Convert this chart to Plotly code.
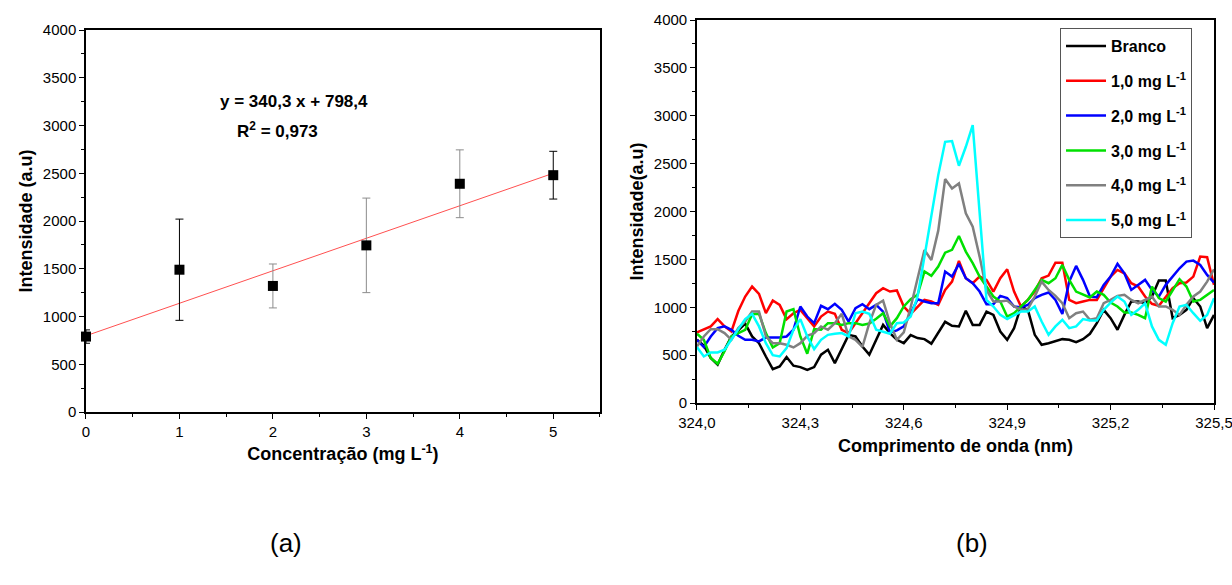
import plotly.graph_objects as go

# ---------- Panel (a): calibration ----------
conc = [0, 1, 2, 3, 4, 5]
intensity = [790, 1490, 1320, 1745, 2390, 2480]
err = [70, 530, 230, 495, 355, 250]
err_dark_idx = [0, 1, 5]
err_gray_idx = [2, 3, 4]
slope = 340.3
intercept = 798.4
fit_x = [0, 5]

# ---------- Panel (b): spectra ----------
wavelength = [324.00, 324.02, 324.04, 324.06, 324.08, 324.10, 324.12, 324.14, 324.16, 324.18,
              324.20, 324.22, 324.24, 324.26, 324.28, 324.30, 324.32, 324.34, 324.36, 324.38,
              324.40, 324.42, 324.44, 324.46, 324.48, 324.50, 324.52, 324.54, 324.56, 324.58,
              324.60, 324.62, 324.64, 324.66, 324.68, 324.70, 324.72, 324.74, 324.76, 324.78,
              324.80, 324.82, 324.84, 324.86, 324.88, 324.90, 324.92, 324.94, 324.96, 324.98,
              325.00, 325.02, 325.04, 325.06, 325.08, 325.10, 325.12, 325.14, 325.16, 325.18,
              325.20, 325.22, 325.24, 325.26, 325.28, 325.30, 325.32, 325.34, 325.36, 325.38,
              325.40, 325.42, 325.44, 325.46, 325.48, 325.50]

branco = [660, 600, 470, 400, 555, 695, 760, 830, 695, 625,
          486, 354, 382, 480, 390, 375, 345, 375, 505, 556,
          417, 556, 712, 695, 590, 505, 660, 816, 730, 660,
          625, 709, 678, 667, 620, 730, 848, 806, 800, 963,
          816, 816, 955, 920, 747, 660, 782, 1008, 973, 712,
          608, 625, 643, 667, 660, 636, 667, 723, 834, 973,
          886, 765, 920, 1060, 1060, 1042, 1112, 1280, 1280, 886,
          920, 973, 1095, 1008, 782, 920]

mg1 = [737, 765, 800, 876, 800, 747, 960, 1112, 1216, 1140,
       938, 1070, 1025, 876, 938, 973, 886, 800, 903, 955,
       931, 765, 730, 834, 938, 1042, 1147, 1199, 1164, 1175,
       1008, 931, 1008, 1077, 1060, 1025, 1181, 1268, 1484, 1303,
       1251, 1320, 1286, 1164, 1303, 1397, 1164, 1008, 1077, 1164,
       1303, 1331, 1466, 1466, 1077, 1042, 1060, 1077, 1077, 1199,
       1320, 1390, 1355, 1251, 1216, 1112, 1036, 1015, 1112, 1199,
       1251, 1258, 1320, 1529, 1522, 1234]

mg2 = [660, 584, 695, 782, 800, 765, 702, 660, 660, 643,
       685, 685, 685, 695, 765, 1008, 903, 834, 1015, 980,
       1036, 973, 851, 990, 1032, 980, 1025, 955, 737, 758,
       800, 938, 1084, 1060, 1042, 1042, 1373, 1320, 1453, 1303,
       1251, 1164, 1032, 1032, 1119, 1095, 1008, 1000, 1025, 1095,
       1130, 1154, 1077, 931, 1268, 1432, 1286, 1112, 1105, 1234,
       1320, 1453, 1355, 1181, 1234, 1286, 1181, 1112, 1234, 1320,
       1407, 1477, 1487, 1442, 1338, 1258]

mg3 = [723, 660, 470, 410, 540, 695, 730, 765, 928, 931,
       730, 580, 625, 955, 980, 695, 514, 771, 765, 834,
       834, 816, 834, 834, 816, 830, 880, 938, 800, 886,
       1008, 1084, 1130, 1373, 1328, 1425, 1570, 1600, 1744, 1581,
       1460, 1320, 1216, 1112, 1060, 903, 938, 1008, 1077, 1181,
       1286, 1251, 1303, 1442, 1286, 1164, 1130, 1102, 1164, 1130,
       1049, 1008, 945, 945, 920, 886, 1216, 1095, 1060, 1181,
       1293, 1216, 1060, 1077, 1130, 1181]

mg4 = [590, 695, 771, 771, 730, 660, 782, 851, 955, 955,
       695, 625, 625, 608, 580, 625, 702, 730, 800, 765,
       834, 931, 695, 660, 585, 834, 1025, 1070, 834, 660,
       737, 1000, 1300, 1598, 1494, 1800, 2339, 2241, 2293, 1981,
       1842, 1529, 1181, 1060, 1060, 1070, 1008, 973, 980, 1112,
       1268, 1181, 1119, 1042, 886, 938, 955, 869, 886, 1042,
       1077, 1119, 1130, 1077, 1042, 1077, 1112, 1008, 1008, 973,
       920, 1025, 1112, 1164, 1268, 1397]

mg5 = [584, 486, 528, 528, 556, 660, 765, 876, 931, 800,
       625, 500, 486, 573, 765, 876, 695, 563, 660, 712,
       723, 730, 695, 938, 955, 931, 765, 747, 723, 834,
       841, 903, 1112, 1529, 1946, 2380, 2728, 2735, 2478, 2676,
       2902, 2015, 1077, 1008, 920, 876, 920, 955, 955, 1008,
       851, 712, 800, 869, 782, 800, 876, 862, 862, 973,
       1049, 1112, 1060, 920, 973, 1042, 800, 660, 608, 834,
       1008, 1025, 938, 858, 920, 1095]

series_names = ["Branco", "1,0 mg L<sup>-1</sup>", "2,0 mg L<sup>-1</sup>",
                "3,0 mg L<sup>-1</sup>", "4,0 mg L<sup>-1</sup>", "5,0 mg L<sup>-1</sup>"]
series_values = [branco, mg1, mg2, mg3, mg4, mg5]
series_colors = ["#000000", "#ff0000", "#0000ff", "#00e000", "#808080", "#00ffff"]

x2_ticks = [324.0, 324.3, 324.6, 324.9, 325.2, 325.5]
x2_ticktext = ["324,0", "324,3", "324,6", "324,9", "325,2", "325,5"]

FONT = "Liberation Sans, Arial, sans-serif"

fig = go.Figure()

# fit line
fig.add_trace(go.Scatter(x=fit_x, y=[slope * v + intercept for v in fit_x], mode="lines",
                         line=dict(color="#ff5050", width=1), showlegend=False,
                         xaxis="x", yaxis="y", hoverinfo="skip"))
# error bars (two shades)
for idx, col in ((err_gray_idx, "#8c8c8c"), (err_dark_idx, "#000000")):
    fig.add_trace(go.Scatter(x=[conc[i] for i in idx], y=[intensity[i] for i in idx],
                             mode="markers", marker=dict(size=1, color=col, opacity=0),
                             error_y=dict(type="data", array=[err[i] for i in idx],
                                          color=col, thickness=1, width=4),
                             showlegend=False, xaxis="x", yaxis="y"))
fig.add_trace(go.Scatter(x=conc, y=intensity, mode="markers",
                         marker=dict(symbol="square", size=10, color="black"),
                         showlegend=False, xaxis="x", yaxis="y", cliponaxis=False))

for i, (name, vals, col) in enumerate(zip(series_names, series_values, series_colors)):
    fig.add_trace(go.Scatter(x=wavelength, y=vals, mode="lines", name=f"<b>{name}</b>",
                             line=dict(color=col, width=2.5), legendgroup=f"g{i}",
                             xaxis="x2", yaxis="y2"))

axis_common = dict(showline=True, linecolor="black", linewidth=1.5, mirror=True,
                   ticks="outside", ticklen=5, tickwidth=1, tickcolor="black",
                   showgrid=False, zeroline=False, automargin=False,
                   tickfont=dict(family=FONT, size=15, color="black"))
title_font = dict(family=FONT, size=18, color="black")

fig.update_layout(
    width=1232, height=585,
    margin=dict(l=0, r=0, t=0, b=0, autoexpand=False),
    paper_bgcolor="white", plot_bgcolor="white",
    font=dict(family=FONT, color="black"),
    xaxis=dict(domain=[0.0698, 0.487], range=[0, 5.5], dtick=1, tick0=0,
               minor=dict(ticks="outside", dtick=0.5, ticklen=3, tickcolor="black"),
               title=dict(text="<b>Concentração (mg L<sup>-1</sup>)</b>", font=title_font, standoff=9),
               anchor="y", **axis_common),
    yaxis=dict(domain=[0.2957, 0.9487], range=[0, 4000], dtick=500,
               minor=dict(ticks="outside", dtick=250, ticklen=3, tickcolor="black"),
               title=dict(text="<b>Intensidade (a.u)</b>", font=title_font, standoff=6),
               anchor="x", **axis_common),
    xaxis2=dict(domain=[0.5657, 0.9854], range=[324.0, 325.5],
                tickmode="array", tickvals=x2_ticks, ticktext=x2_ticktext,
                ticklabeloverflow="allow",
                minor=dict(ticks="outside", tickmode="linear", tick0=324.0, dtick=0.15,
                           ticklen=3, tickcolor="black"),
                title=dict(text="<b>Comprimento de onda (nm)</b>", font=title_font, standoff=10),
                anchor="y2", **axis_common),
    yaxis2=dict(domain=[0.3111, 0.9658], range=[0, 4000], dtick=500,
                minor=dict(ticks="outside", dtick=250, ticklen=3, tickcolor="black"),
                title=dict(text="<b>Intensidade(a.u)</b>", font=title_font, standoff=6),
                anchor="x2", **axis_common),
    legend=dict(x=0.8604, y=0.952, xanchor="left", yanchor="top",
                bgcolor="white", bordercolor="#555", borderwidth=1,
                font=dict(family=FONT, size=16, color="black"),
                tracegroupgap=11, itemwidth=40),
    annotations=[
        dict(text="<b>y = 340,3 x + 798,4</b>", x=2.23, y=3250, xref="x", yref="y",
             showarrow=False, font=dict(family=FONT, size=17, color="black")),
        dict(text="<b>R<sup>2</sup> = 0,973</b>", x=2.05, y=2950, xref="x", yref="y",
             showarrow=False, font=dict(family=FONT, size=17, color="black")),
        dict(text="(a)", x=268 / 1232, y=1 - 560 / 585, xref="paper", yref="paper",
             showarrow=False, font=dict(family=FONT, size=26, color="black")),
        dict(text="(b)", x=990 / 1232, y=1 - 560 / 585, xref="paper", yref="paper",
             showarrow=False, font=dict(family=FONT, size=26, color="black")),
    ],
)

fig.write_html("out.html")
